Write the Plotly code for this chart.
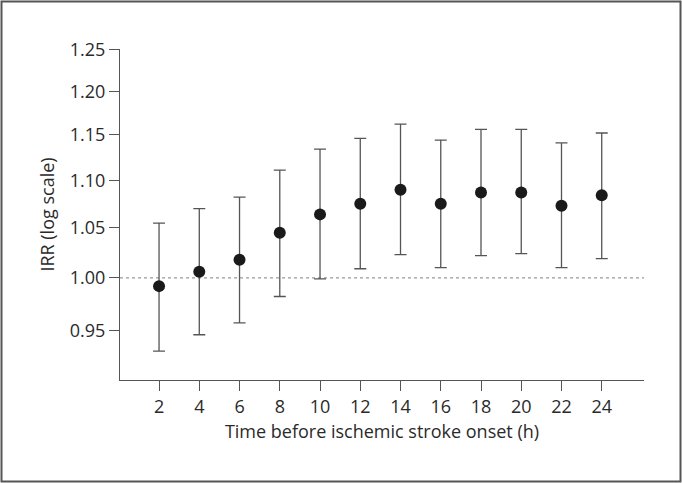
import math
import plotly.graph_objects as go

hours = [2, 4, 6, 8, 10, 12, 14, 16, 18, 20, 22, 24]
irr = [0.992, 1.006, 1.018, 1.045, 1.064, 1.075, 1.090, 1.075, 1.087, 1.087, 1.073, 1.084]
ci_upper = [1.055, 1.070, 1.082, 1.111, 1.134, 1.146, 1.162, 1.144, 1.156, 1.156, 1.141, 1.152]
ci_lower = [0.931, 0.946, 0.957, 0.982, 0.999, 1.009, 1.023, 1.010, 1.022, 1.024, 1.010, 1.019]
y_ticks = [0.95, 1.00, 1.05, 1.10, 1.15, 1.20, 1.25]
x_ticks = hours

err_plus = [u - v for u, v in zip(ci_upper, irr)]
err_minus = [v - l for v, l in zip(irr, ci_lower)]

W, H = 682, 483
ml, mr, mt, mb = 120, 38, 49, 103
pw, ph = W - ml - mr, H - mt - mb

fig = go.Figure()
fig.add_trace(go.Scatter(
    x=hours, y=irr, mode="markers",
    marker=dict(color="#1a1a1a", size=12),
    error_y=dict(type="data", symmetric=False, array=err_plus, arrayminus=err_minus,
                 color="#555555", thickness=1.3, width=6),
    showlegend=False,
))

# reference line at IRR = 1
fig.add_shape(type="line", xref="paper", yref="y", x0=0, x1=1, y0=1.0, y1=1.0,
              line=dict(color="#999999", width=1.2, dash="dot"), layer="below")

# outer frame
def px_to_paper_x(px):
    return (px - ml) / pw

def px_to_paper_y(py):
    return (H - mb - py) / ph

fig.add_shape(type="rect", xref="paper", yref="paper",
              x0=px_to_paper_x(1.5), x1=px_to_paper_x(680.5),
              y0=px_to_paper_y(481.5), y1=px_to_paper_y(1.5),
              line=dict(color="#555555", width=2))

font = "Open Sans, Segoe UI, sans-serif"
fig.update_layout(
    width=W, height=H,
    margin=dict(l=ml, r=mr, t=mt, b=mb),
    paper_bgcolor="white", plot_bgcolor="white",
    font=dict(family=font, size=18, color="#2a2a2a"),
    xaxis=dict(range=[0.06, 26.1], tickvals=x_ticks, ticktext=[str(t) for t in x_ticks],
               showgrid=False, zeroline=False, showline=True, linecolor="#555555", linewidth=1.3,
               ticks="outside", ticklen=10, tickcolor="#555555", tickwidth=1.3,
               tickfont=dict(size=18),
               title=dict(text="Time before ischemic stroke onset (h)", font=dict(size=18), standoff=8)),
    yaxis=dict(type="log", range=[-0.0433, math.log10(1.2505)],
               tickvals=y_ticks, ticktext=[f"{t:.2f}" for t in y_ticks],
               showgrid=False, zeroline=False, showline=True, linecolor="#555555", linewidth=1.3,
               ticks="outside", ticklen=10, tickcolor="#555555", tickwidth=1.3,
               tickfont=dict(size=18),
               title=dict(text="IRR (log scale)", font=dict(size=18), standoff=10)),
)

fig.write_html("out.html", config={"displayModeBar": False},
               post_script="document.body.style.margin='0';document.body.style.overflow='hidden';")
